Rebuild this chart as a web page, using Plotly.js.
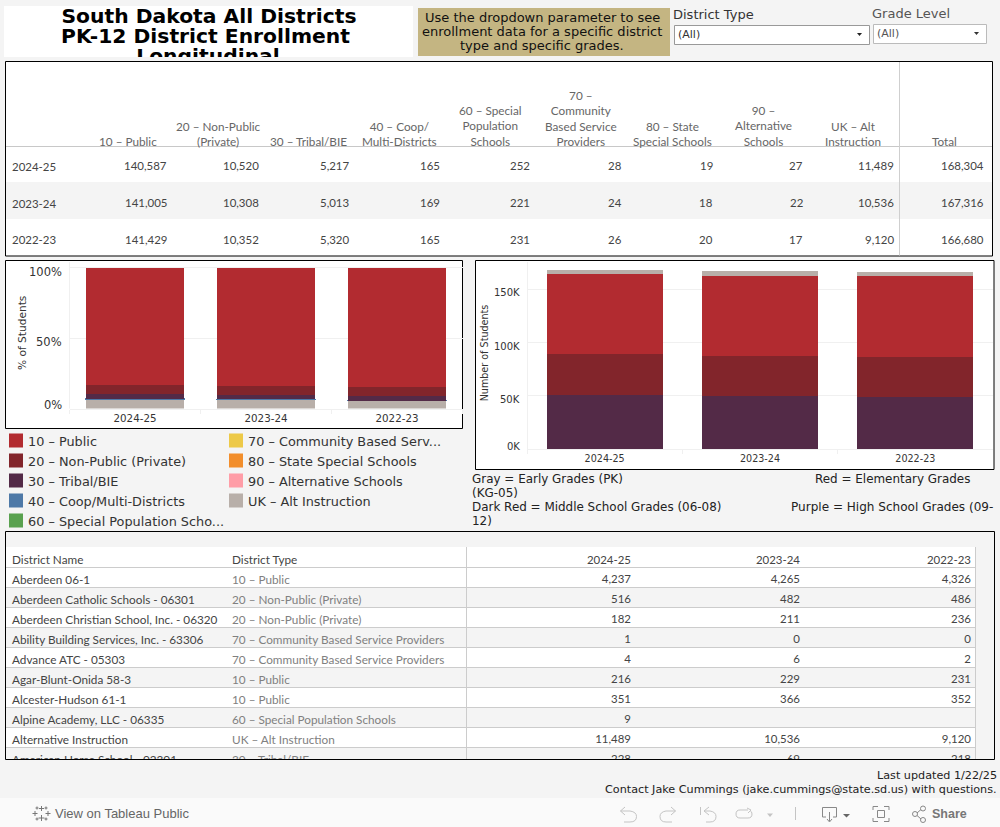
<!DOCTYPE html>
<html><head><meta charset="utf-8">
<script src="https://cdn.plot.ly/plotly-3.0.1.min.js"></script>
<style>html,body{margin:0;padding:0;background:#f4f4f4;overflow:hidden}#c{width:1000px;height:827px}</style>
</head><body><div id="c"></div>
<script>
// ---------- data ----------
const years = ["2024-25","2023-24","2022-23"];
const typeNames = ["10 – Public","20 – Non-Public (Private)","30 – Tribal/BIE","40 – Coop/Multi-Districts","60 – Special Population Schools","70 – Community Based Service Providers","80 – State Special Schools","90 – Alternative Schools","UK – Alt Instruction"];
const typeColors = ["#b22b30","#82252b","#532a47","#4e79a7","#59a14f","#edc948","#f28e2b","#ff9da7","#b8afa9"];
const typeHeaders = ["10 – Public","20 – Non-Public<br>(Private)","30 – Tribal/BIE","40 – Coop/<br>Multi-Districts","60 – Special<br>Population<br>Schools","70 –<br>Community<br>Based Service<br>Providers","80 – State<br>Special Schools","90 –<br>Alternative<br>Schools","UK – Alt<br>Instruction","Total"];
const publicVals = [140587,141005,141429];
const privateVals = [10520,10308,10352];
const tribalVals = [5217,5013,5320];
const coopVals = [165,169,165];
const specialVals = [252,221,231];
const communityVals = [28,24,26];
const stateVals = [19,18,20];
const altSchoolVals = [27,22,17];
const altInstrVals = [11489,10536,9120];
const totalVals = [168304,167316,166680];
const typeSeries = [publicVals,privateVals,tribalVals,coopVals,specialVals,communityVals,stateVals,altSchoolVals,altInstrVals];
const pctTicks = [100,50,0];
const pctTickLabels = ["100%","50%","0%"];
const countTicks = [150000,100000,50000,0];
const countTickLabels = ["150K","100K","50K","0K"];
const gradeNames = ["High School Grades (09-12)","Middle School Grades (06-08)","Elementary Grades (KG-05)","Early Grades (PK)"];
const gradeColors = ["#532a47","#82252b","#b22b30","#b8afa9"];
const highVals = [51000,50000,49000];
const middleVals = [38000,37600,37500];
const elemVals = [75000,75000,76100];
const earlyVals = [4304,4716,4080];
const gradeSeries = [highVals,middleVals,elemVals,earlyVals];
const legendLabels = ["10 – Public","20 – Non-Public (Private)","30 – Tribal/BIE","40 – Coop/Multi-Districts","60 – Special Population Scho...","70 – Community Based Serv...","80 – State Special Schools","90 – Alternative Schools","UK – Alt Instruction"];
const districtNames = ["Aberdeen 06-1","Aberdeen Catholic Schools - 06301","Aberdeen Christian School, Inc. - 06320","Ability Building Services, Inc. - 63306","Advance ATC - 05303","Agar-Blunt-Onida 58-3","Alcester-Hudson 61-1","Alpine Academy, LLC - 06335","Alternative Instruction","American Horse School - 02301"];
const districtTypes = ["10 – Public","20 – Non-Public (Private)","20 – Non-Public (Private)","70 – Community Based Service Providers","70 – Community Based Service Providers","10 – Public","10 – Public","60 – Special Population Schools","UK – Alt Instruction","30 – Tribal/BIE"];
const enroll2425 = ["4,237","516","182","1","4","216","351","9","11,489","228"];
const enroll2324 = ["4,265","482","211","0","6","229","366","","10,536","69"];
const enroll2223 = ["4,326","486","236","0","2","231","352","","9,120","218"];
const titleLines = ["South Dakota All Districts","PK-12 District Enrollment","Longitudinal"];

// ---------- pixel helpers ----------
const W=1000,H=827;
const X=v=>v/W, Y=v=>1-v/H;
const TF="Lato, Carlito, sans-serif", DV="'DejaVu Sans', sans-serif", LS="'Liberation Sans', Arial, sans-serif";
const TS=11.75, NS=11.45;
const shapes=[], annotations=[];
function rect(x0,y0,x1,y1,fill,line,lw){shapes.push({type:'rect',xref:'paper',yref:'paper',layer:'below',x0:X(x0),x1:X(x1),y0:Y(y0),y1:Y(y1),fillcolor:fill||'rgba(0,0,0,0)',line:{color:line||'rgba(0,0,0,0)',width:line?(lw||1):0}});}
function pathPx(d,color,fill,w){let i=0;const s=d.replace(/-?\d+(\.\d+)?/g,n=>{const v=parseFloat(n);return (i++%2===0?X(v):Y(v)).toFixed(5);});
 shapes.push({type:'path',xref:'paper',yref:'paper',layer:'below',path:s,fillcolor:fill||'rgba(0,0,0,0)',line:{color:color||'rgba(0,0,0,0)',width:color?(w||1):0}});}
function hl(x0,x1,y,c){pathPx(`M${x0} ${y} L${x1} ${y}`,c||'#cfcfcf');}
function vl(x,y0,y1,c){pathPx(`M${x} ${y0} L${x} ${y1}`,c||'#cfcfcf');}
function txt(x,y,t,o){o=o||{};annotations.push({xref:'paper',yref:'paper',x:X(x),y:Y(y),text:t,showarrow:false,xanchor:o.a||'left',yanchor:o.v||'middle',align:o.al||(o.a==='right'?'right':o.a==='center'?'center':'left'),font:{family:o.f||DV,size:o.s||12,color:o.c||'#333',weight:o.w||'normal'},borderpad:0,borderwidth:0,textangle:o.r||0});}

// ---------- header ----------
rect(4,6,413,57,'#ffffff');
rect(418,8,670,56,'#c4b582');
txt(542,17,"Use the dropdown parameter to see",{a:'center',s:13,c:'#111'});
txt(542,31.5,"enrollment data for a specific district",{a:'center',s:13,c:'#111'});
txt(542,46,"type and specific grades.",{a:'center',s:13,c:'#111'});
txt(673,14.5,"District Type",{s:13,c:'#333'});
txt(872,13.5,"Grade Level",{s:13,c:'#555'});
rect(674.5,25.5,869.5,44.5,'#ffffff','#999999');
rect(873.5,24.5,986.5,43.5,'#ffffff','#bbbbbb');
txt(678,34.5,"(All)",{s:11,c:'#333'});
txt(877,33.5,"(All)",{s:11,c:'#555'});
pathPx("M857 33 L862 33 L859.5 36 Z",null,'#222');
pathPx("M974 32 L979 32 L976.5 35 Z",null,'#333');

// ---------- top table ----------
rect(5.5,61.5,992.5,256,'#ffffff','#000000');
rect(6,182,992,219,'#f4f4f4');
hl(6,992,146.5,'#c8c8c8');
vl(899.5,62,255.5,'#cfcfcf');
const colRight=[167,259,349,440,530,622,713,803,894,984];
const colCenter=[127.5,218,308.5,399,490,581,672,763,853,944];
const rowY=[166,203,239.5];
typeHeaders.forEach((h,i)=>txt(colCenter[i],149,h,{a:'center',v:'bottom',f:TF,s:TS,c:'#666'}));
const fmt=n=>n.toLocaleString('en-US');
years.forEach((yr,r)=>{
  txt(12,rowY[r]+.5,yr,{f:TF,s:NS,c:'#444'});
  typeSeries.concat([totalVals]).forEach((s,c)=>txt(colRight[c],rowY[r],fmt(s[r]),{a:'right',f:TF,s:NS,c:'#444'}));
});

// ---------- chart frames ----------
rect(5.5,260.5,462.5,428.5,'#ffffff','#000000');
rect(475.5,260.5,994,469.5,'#ffffff','#000000');
const grid='#f0f0f0';
vl(69.5,262,408.6,grid);
vl(527.5,262,449,grid);
pctTicks.forEach((v,i)=>txt(62,[272,342,405][i],pctTickLabels[i],{a:'right',s:11.5,c:'#333'}));
countTicks.forEach((v,i)=>txt(520,[292.5,346.5,399.5,446.5][i],countTickLabels[i],{a:'right',s:10,c:'#333'}));

// ---------- legend ----------
legendLabels.forEach((t,i)=>{
  const col=i<5?0:1,row=i<5?i:i-5;
  const sx=col?229:9,cy=440.5+row*20;
  rect(sx,cy-7,sx+14,cy+7,typeColors[i]);
  txt(sx+19,cy+.5,t,{s:12.85,c:'#333'});
});

// ---------- notes ----------
txt(472,479,"Gray = Early Grades (PK)",{s:11.95,c:'#222'});
txt(472,493,"(KG-05)",{s:11.95,c:'#222'});
txt(472,507,"Dark Red = Middle School Grades (06-08)",{s:11.95,c:'#222'});
txt(472,521,"12)",{s:11.95,c:'#222'});
txt(815,479,"Red = Elementary Grades",{s:11.95,c:'#222'});
txt(791,507,"Purple = High School Grades (09-",{s:12.05,c:'#222'});

// ---------- bottom table ----------
rect(5.5,531.5,994.5,759.5,'#f4f4f4','#000000');
rect(6,547,975,759,'#ffffff');
for(let r=1;r<10;r+=2) rect(6,567.5+r*20,975,Math.min(759,587.5+r*20),'#f4f4f4');
for(let r=0;r<10;r++) hl(6,975,567.5+r*20,'#cccccc');
vl(466.5,547,759,'#cccccc');
vl(975.5,547,759,'#cccccc');
const tblCols=[631,800,971];

// ---------- footer ----------
txt(997,775,"Last updated 1/22/25",{a:'right',s:11.2,c:'#222'});
txt(997,789,"Contact Jake Cummings (jake.cummings@state.sd.us) with questions.",{a:'right',s:11.2,c:'#222'});
rect(0,798,1000,827,'#fafafa');
txt(55,813.5,"View on Tableau Public",{f:LS,s:13,c:'#666'});
txt(932,813.5,"Share",{f:LS,s:12.5,c:'#777',w:'bold'});
// toolbar glyphs
const g='#c4c4c4';
pathPx("M41.5 806 L41.5 811 M39 808.5 L44 808.5 M41.5 815 L41.5 821 M38.5 818 L44.5 818 M35 811 L35 816 M32.5 813.5 L37.5 813.5 M48 811 L48 816 M45.5 813.5 L50.5 813.5 M37 806.5 L37 809.5 M35.5 808 L38.5 808 M46 806.5 L46 809.5 M44.5 808 L47.5 808 M37 817.5 L37 820.5 M35.5 819 L38.5 819 M46 817.5 L46 820.5 M44.5 819 L47.5 819",'#777');
pathPx("M625 807 L620.5 811 L625 815 M620.5 811 L630 811 Q636.5 812 636.5 816.5 Q636.5 822 630 822 L624 822",g);
pathPx("M671 807 L675.5 811 L671 815 M675.5 811 L666 811 Q660 812 660 816.5 Q660 822 666 822 L672 822",g);
pathPx("M700.5 807 L700.5 815 M709 807 L704 811 L709 815 M704 811 L710 811 Q716 812 716 816.5 Q716 822 710 822 L706 822",g);
pathPx("M748 810 L740 810 Q736 810 736 814 Q736 818 740 818 L748 818 Q752 818 752 814 Q752 811.5 750 810.5 M747 808 L751 810 L748 813",g);
pathPx("M767 813.5 L773 813.5 L770 817 Z",null,g);
vl(795.5,807,820,g);
pathPx("M826 817 L822.5 817 L822.5 807.5 L836.5 807.5 L836.5 817 L833 817 M829.5 812 L829.5 821 M827 819 L829.5 822 L832 819",'#888');
pathPx("M843 814 L850 814 L846.5 817.5 Z",null,'#666');
pathPx("M873 810 L873 806.5 L878 806.5 M884 806.5 L889 806.5 L889 810 M889 818 L889 821.5 L884 821.5 M878 821.5 L873 821.5 L873 818 M877.5 810.5 L884.5 810.5 L884.5 817.5 L877.5 817.5 Z",'#888');
pathPx("M917 813 L921 809.5 M917 815.5 L921 819 M915 811.5 Q917.5 811.5 917.5 814 Q917.5 816.5 915 816.5 Q912.5 816.5 912.5 814 Q912.5 811.5 915 811.5 Z M923 806 Q925.5 806 925.5 808.5 Q925.5 811 923 811 Q920.5 811 920.5 808.5 Q920.5 806 923 806 Z M923 817.5 Q925.5 817.5 925.5 820 Q925.5 822.5 923 822.5 Q920.5 822.5 920.5 820 Q920.5 817.5 923 817.5 Z",'#888');

// ---------- traces ----------
const traces=[];
// 90, 80, 70 and 60 draw first, then the Coop band with a hairline of its own colour
// so that it stays visible, as it does in the reference; Tribal and the reds go over it.
const stackOrder=[8,7,6,5,4,3,2,1,0];
stackOrder.forEach(i=>traces.push({type:'bar',name:typeNames[i],x:years,y:typeSeries[i].map((v,k)=>v/totalVals[k]*100),marker:{color:typeColors[i],line:i===3?{color:typeColors[i],width:1.6}:{width:0}},xaxis:'x',yaxis:'y',width:0.75,hoverinfo:'name+y',showlegend:false}));
gradeSeries.forEach((s,i)=>traces.push({type:'bar',name:gradeNames[i],x:years,y:s,marker:{color:gradeColors[i],line:{width:0}},xaxis:'x2',yaxis:'y2',width:0.747,hoverinfo:'name+y',showlegend:false}));
traces.push({type:'scatter',mode:'text',x:[209,205.5,208],y:[17.5,37.5,57.5],text:titleLines,textposition:'middle center',cliponaxis:true,textfont:{family:DV,size:20.3,color:'#000',weight:'bold'},xaxis:'x3',yaxis:'y3',hoverinfo:'skip',showlegend:false});
const rowCy=districtNames.map((_,i)=>581+i*20);
const st={mode:'text',type:'scatter',cliponaxis:true,xaxis:'x4',yaxis:'y4',hoverinfo:'skip',showlegend:false};
traces.push(Object.assign({},st,{x:districtNames.map(()=>12),y:rowCy,text:districtNames,textposition:'middle right',textfont:{family:TF,size:TS,color:'#444'}}));
traces.push(Object.assign({},st,{x:districtNames.map(()=>232),y:rowCy,text:districtTypes,textposition:'middle right',textfont:{family:TF,size:TS,color:'#808080'}}));
[enroll2425,enroll2324,enroll2223].forEach((vals,c)=>traces.push(Object.assign({},st,{x:vals.map(()=>tblCols[c]),y:rowCy.map(v=>v-1),text:vals,textposition:'middle left',textfont:{family:TF,size:NS,color:'#444'}})));
traces.push(Object.assign({},st,{x:[12,232],y:[561,561],text:["District Name","District Type"],textposition:'middle right',textfont:{family:TF,size:TS,color:'#444'}}));
traces.push(Object.assign({},st,{x:tblCols,y:[561,561,561],text:years,textposition:'middle left',textfont:{family:TF,size:NS,color:'#444'}}));

const catAxis=(dom,anchor)=>({domain:dom,anchor:anchor,type:'category',categoryorder:'array',categoryarray:years,tickson:'boundaries',ticks:'outside',ticklen:4,tickcolor:grid,tickwidth:1,showgrid:false,zeroline:false,showline:true,linecolor:grid,fixedrange:true});
const hidden=(dom,range,anchor)=>({domain:dom,range:range,anchor:anchor,visible:false,fixedrange:true});
const layout={
  width:W,height:H,margin:{l:0,r:0,t:0,b:0},paper_bgcolor:'#f4f4f4',plot_bgcolor:'rgba(0,0,0,0)',
  barmode:'stack',bargap:0.25,showlegend:false,font:{family:DV,color:'#333'},
  xaxis:Object.assign(catAxis([X(69.5),X(462.5)],'y'),{tickfont:{family:DV,size:10.3,color:'#333'}}),
  yaxis:{domain:[Y(408.6),Y(257)],range:[0,107.8],anchor:'x',tickmode:'array',tickvals:pctTicks,showticklabels:false,ticks:'',showgrid:true,gridcolor:grid,zeroline:false,showline:false,fixedrange:true,
    title:{text:"% of Students",font:{family:DV,size:10.6,color:'#333'},standoff:39}},
  xaxis2:Object.assign(catAxis([X(527),X(993)],'y2'),{tickfont:{family:DV,size:9.6,color:'#333'}}),
  yaxis2:{domain:[Y(449),Y(257)],range:[0,180400],anchor:'x2',tickmode:'array',tickvals:countTicks,showticklabels:false,ticks:'',showgrid:true,gridcolor:grid,zeroline:false,showline:false,fixedrange:true,
    title:{text:"Number of Students",font:{family:DV,size:9.6,color:'#333'},standoff:35}},
  xaxis3:hidden([X(4),X(413)],[4,413],'y3'),
  yaxis3:hidden([Y(57),Y(6)],[57,6],'x3'),
  xaxis4:hidden([X(6),X(975)],[6,975],'y4'),
  yaxis4:hidden([Y(759),Y(547)],[759,547],'x4'),
  shapes:shapes,annotations:annotations
};
Plotly.newPlot('c',traces,layout,{displayModeBar:false,staticPlot:false,responsive:false});
</script></body></html>
